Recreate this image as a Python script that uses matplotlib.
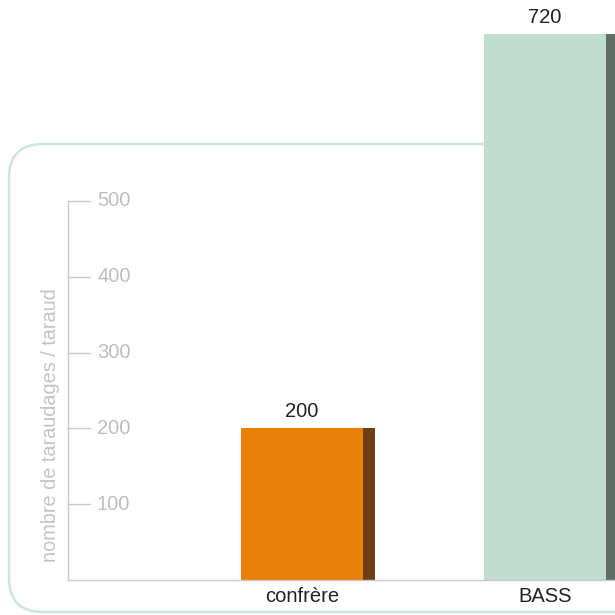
import matplotlib.pyplot as plt
from matplotlib.patches import FancyBboxPatch

categories = ["confrère", "BASS"]
values = [200, 720]
bar_colors = ["#e8800a", "#c1ddd0"]
side_colors = ["#6e3f17", "#5e6e66"]
yticks = [100, 200, 300, 400, 500]

plt.rcParams['font.family'] = ['Liberation Sans', 'DejaVu Sans']

W, H = 615, 615
fig = plt.figure(figsize=(W / 100, H / 100), dpi=100)

# rounded frame behind the plot
frame = FancyBboxPatch((9 / W, 3 / H), 640 / W, 468 / H,
                       boxstyle="round,pad=0,rounding_size=0.055",
                       transform=fig.transFigure, fill=False,
                       edgecolor="#cde6db", linewidth=1.8, clip_on=False, zorder=-5)
fig.patches.append(frame)

ax_left, ax_bottom = 68, 615 - 580
ax_w = W - ax_left
ax = fig.add_axes([ax_left / W, ax_bottom / H, ax_w / W, (H - ax_bottom) / H])
ax.patch.set_alpha(0)

x = [0, 1]
bw = 0.506
sw = 0.049
ax.bar(x, values, width=bw, color=bar_colors, zorder=2)
ax.bar([xi + bw / 2 + sw / 2 for xi in x], values, width=sw, color=side_colors, zorder=2)

for xi, v in zip(x, values):
    ax.text(xi, v + 10, str(v), ha="center", va="bottom", fontsize=14.5, color="#222222")

ax.set_xlim(-0.963, 1.288)
ax.set_ylim(0, 765)

ax.spines["top"].set_visible(False)
ax.spines["right"].set_visible(False)
ax.spines["left"].set_bounds(0, 500)
for s in ("left", "bottom"):
    ax.spines[s].set_color("#c8c8c8")
    ax.spines[s].set_linewidth(1)

# ticks point inward, labels sit to the right of them
ax.set_yticks([])
yt = ax.get_yaxis_transform()
for t in yticks:
    ax.plot([0, 22 / ax_w], [t, t], color="#c8c8c8", lw=1, transform=yt, clip_on=False)
    ax.text(29 / ax_w, t, str(t), transform=yt, ha="left", va="center",
            fontsize=14.5, color="#bebebe")

ax.set_xticks(x)
ax.set_xticklabels(categories)
ax.tick_params(axis="x", length=0, labelsize=14.5, labelcolor="#222222", pad=5)

fig.text(51 / W, 1 - 425 / H, "nombre de taraudages / taraud", rotation=90,
         ha="center", va="center", fontsize=14.3, color="#c4c4c4")

fig.savefig("out.png", dpi=100)
